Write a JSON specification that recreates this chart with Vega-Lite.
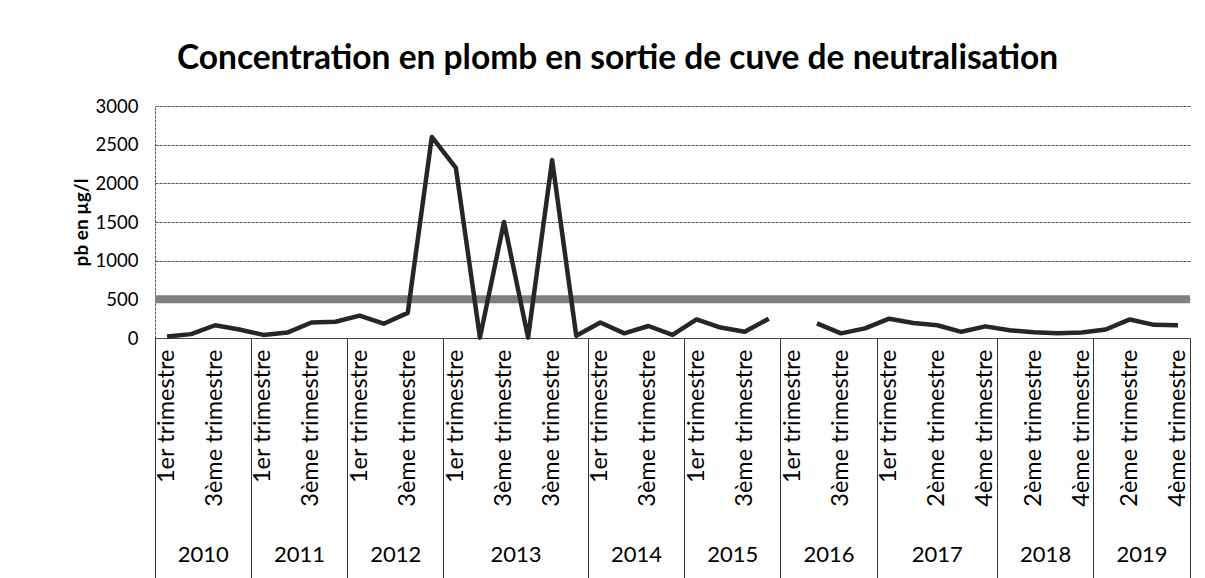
{
  "$schema": "https://vega.github.io/schema/vega-lite/v6.json",
  "width": 1035,
  "height": 232,
  "autosize": {"type": "none"},
  "padding": {"left": 155, "top": 106, "right": 15, "bottom": 240},
  "background": "white",
  "title": {
    "text": "Concentration en plomb en sortie de cuve de neutralisation",
    "font": "Lato", "fontSize": 33.5, "fontWeight": "bold", "color": "black",
    "anchor": "middle", "dx": -55, "offset": 21
  },
  "datasets": {
    "mesures": [
      {"periode": "2010-T1", "annee": "2010", "pb": 20},
      {"periode": "2010-T2", "annee": "2010", "pb": 50},
      {"periode": "2010-T3", "annee": "2010", "pb": 165},
      {"periode": "2010-T4", "annee": "2010", "pb": 110},
      {"periode": "2011-T1", "annee": "2011", "pb": 40},
      {"periode": "2011-T2", "annee": "2011", "pb": 70},
      {"periode": "2011-T3", "annee": "2011", "pb": 200},
      {"periode": "2011-T4", "annee": "2011", "pb": 210},
      {"periode": "2012-T1", "annee": "2012", "pb": 290},
      {"periode": "2012-T2", "annee": "2012", "pb": 185},
      {"periode": "2012-T3", "annee": "2012", "pb": 325},
      {"periode": "2012-T4", "annee": "2012", "pb": 2600},
      {"periode": "2013-T1", "annee": "2013", "pb": 2200},
      {"periode": "2013-T2", "annee": "2013", "pb": 5},
      {"periode": "2013-T3", "annee": "2013", "pb": 1500},
      {"periode": "2013-T3b", "annee": "2013", "pb": 5},
      {"periode": "2013-T3c", "annee": "2013", "pb": 2300},
      {"periode": "2013-T4", "annee": "2013", "pb": 30},
      {"periode": "2014-T1", "annee": "2014", "pb": 200},
      {"periode": "2014-T2", "annee": "2014", "pb": 60},
      {"periode": "2014-T3", "annee": "2014", "pb": 155},
      {"periode": "2014-T4", "annee": "2014", "pb": 40},
      {"periode": "2015-T1", "annee": "2015", "pb": 240},
      {"periode": "2015-T2", "annee": "2015", "pb": 135},
      {"periode": "2015-T3", "annee": "2015", "pb": 80},
      {"periode": "2015-T4", "annee": "2015", "pb": 250},
      {"periode": "2016-T1", "annee": "2016", "pb": null},
      {"periode": "2016-T2", "annee": "2016", "pb": 190},
      {"periode": "2016-T3", "annee": "2016", "pb": 60},
      {"periode": "2016-T4", "annee": "2016", "pb": 125},
      {"periode": "2017-T1", "annee": "2017", "pb": 250},
      {"periode": "2017-T1b", "annee": "2017", "pb": 195},
      {"periode": "2017-T2", "annee": "2017", "pb": 165},
      {"periode": "2017-T3", "annee": "2017", "pb": 80},
      {"periode": "2017-T4", "annee": "2017", "pb": 150},
      {"periode": "2018-T1", "annee": "2018", "pb": 100},
      {"periode": "2018-T2", "annee": "2018", "pb": 75},
      {"periode": "2018-T3", "annee": "2018", "pb": 60},
      {"periode": "2018-T4", "annee": "2018", "pb": 70},
      {"periode": "2019-T1", "annee": "2019", "pb": 110},
      {"periode": "2019-T2", "annee": "2019", "pb": 240},
      {"periode": "2019-T3", "annee": "2019", "pb": 170},
      {"periode": "2019-T4", "annee": "2019", "pb": 165}
    ],
    "seuil": [{"seuil": 500}]
  },
  "layer": [
    {
      "data": {"name": "seuil"},
      "mark": {"type": "rule", "color": "#808080", "strokeWidth": 8},
      "encoding": {
        "y": {
          "field": "seuil", "type": "quantitative",
          "scale": {"domain": [0, 3000], "nice": false},
          "axis": {
            "title": "pb en µg/l", "titleFont": "Lato", "titleFontSize": 19, "titleFontWeight": "bold", "titleColor": "black", "titlePadding": 4,
            "values": [0, 500, 1000, 1500, 2000, 2500, 3000], "format": "d", "labelOverlap": false,
            "labelFont": "Lato", "labelFontSize": 18.5, "labelColor": "black", "labelPadding": 17,
            "ticks": false, "domain": true, "domainColor": "#555", "domainDash": [3, 1],
            "grid": true, "gridColor": "#555", "gridWidth": 1, "gridDash": [3, 1]
          }
        }
      }
    },
    {
      "data": {"name": "mesures"},
      "mark": {"type": "line", "color": "#262626", "strokeWidth": 4.5, "strokeJoin": "round", "invalid": "break-paths-show-domains"},
      "encoding": {
        "x": {
          "field": "periode", "type": "ordinal", "bandPosition": 0.5,
          "scale": {"type": "band", "paddingInner": 0, "paddingOuter": 0},
          "axis": {
            "orient": "bottom", "title": null,
            "values": ["2010-T1","2010-T3","2011-T1","2011-T3","2012-T1","2012-T3","2013-T1","2013-T3","2013-T3c","2014-T1","2014-T3","2015-T1","2015-T3","2016-T1","2016-T3","2017-T1","2017-T2","2017-T4","2018-T2","2018-T4","2019-T2","2019-T4"],
            "labelExpr": "substring(datum.value,5,7) == 'T1' ? '1er trimestre' : substring(datum.value,5,7) == 'T2' ? '2ème trimestre' : substring(datum.value,5,7) == 'T3' ? '3ème trimestre' : '4ème trimestre'",
            "labelAngle": -90, "labelAlign": "right", "labelBaseline": "middle",
            "labelFont": "Lato", "labelFontSize": 23.5, "labelColor": "black", "labelPadding": 11,
            "labelOverlap": false, "labelBound": false,
            "ticks": false, "domain": true, "domainColor": "#444", "domainWidth": 1, "grid": false
          }
        },
        "y": {
          "field": "pb", "type": "quantitative",
          "scale": {"domain": [0, 3000], "nice": false},
          "axis": {
            "title": "pb en µg/l", "titleFont": "Lato", "titleFontSize": 19, "titleFontWeight": "bold", "titleColor": "black", "titlePadding": 4,
            "values": [0, 500, 1000, 1500, 2000, 2500, 3000], "format": "d", "labelOverlap": false,
            "labelFont": "Lato", "labelFontSize": 18.5, "labelColor": "black", "labelPadding": 17,
            "ticks": false, "domain": true, "domainColor": "#555", "domainDash": [3, 1],
            "grid": true, "gridColor": "#555", "gridWidth": 1, "gridDash": [3, 1]
          }
        }
      }
    },
    {
      "data": {"name": "mesures"},
      "mark": {"type": "point", "opacity": 0},
      "encoding": {
        "x": {
          "field": "periode", "type": "ordinal",
          "scale": {"type": "band", "paddingInner": 0, "paddingOuter": 0},
          "axis": {
            "orient": "bottom", "title": null,
            "values": ["2010-T1","2011-T1","2012-T1","2013-T1","2014-T1","2015-T1","2016-T1","2017-T1","2018-T1","2019-T1"],
            "bandPosition": 0, "labels": false, "domain": false, "grid": false,
            "ticks": true, "tickSize": 240, "tickColor": "#333", "tickWidth": 1
          }
        }
      }
    },
    {
      "data": {"name": "mesures"},
      "mark": {"type": "point", "opacity": 0},
      "encoding": {
        "x": {
          "field": "periode", "type": "ordinal",
          "scale": {"type": "band", "paddingInner": 0, "paddingOuter": 0},
          "axis": {
            "orient": "bottom", "title": null,
            "values": ["2019-T4"],
            "bandPosition": 1, "labels": false, "domain": false, "grid": false,
            "ticks": true, "tickSize": 240, "tickColor": "#333", "tickWidth": 1
          }
        }
      }
    },
    {
      "data": {"name": "mesures"},
      "mark": {"type": "point", "opacity": 0},
      "encoding": {
        "x": {
          "field": "periode", "type": "ordinal",
          "scale": {"type": "band", "paddingInner": 0, "paddingOuter": 0},
          "axis": {
            "orient": "bottom", "title": null,
            "values": ["2010-T3","2011-T3","2012-T3","2013-T3b","2014-T3","2015-T3","2016-T3","2017-T2","2018-T3","2019-T3"],
            "labelExpr": "substring(datum.value,0,4)",
            "labelOffset": {"condition": {"test": "datum.value == '2017-T2'", "value": 0}, "value": -12},
            "labelAngle": 0, "labelAlign": "center", "labelBaseline": "top",
            "labelFont": "Lato", "labelFontSize": 22, "labelColor": "black", "labelPadding": 206,
            "labelOverlap": false, "labelBound": false,
            "ticks": false, "domain": false, "grid": false
          }
        }
      }
    }
  ],
  "resolve": {"axis": {"x": "independent"}},
  "config": {"view": {"stroke": null}}
}
